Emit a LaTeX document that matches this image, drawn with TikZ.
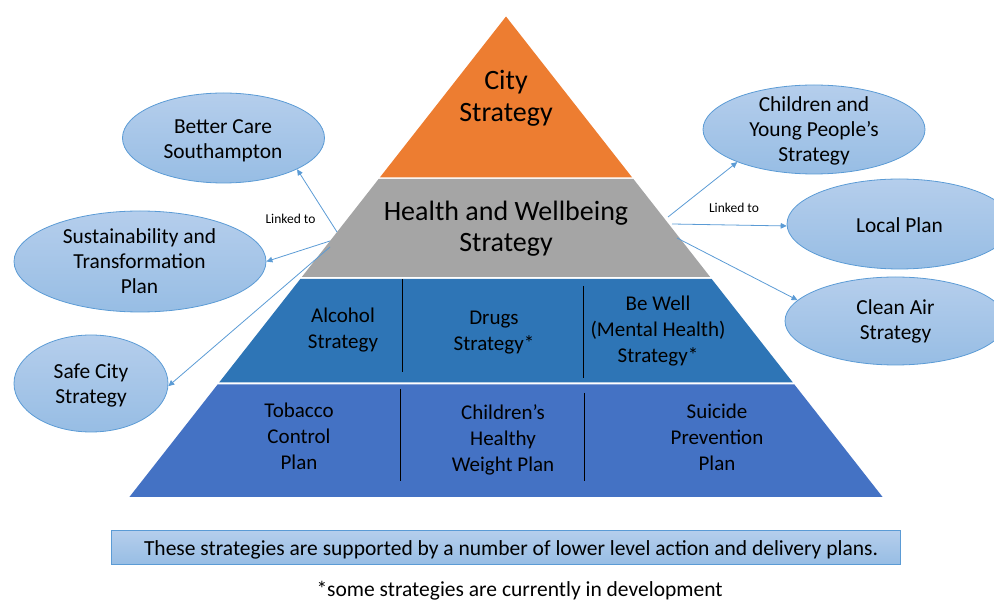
\documentclass[tikz,border=0pt]{standalone}
\usepackage{fontspec}
\setmainfont{Carlito}
\usetikzlibrary{shapes.geometric,arrows.meta}
\definecolor{cityorange}{HTML}{ED7D31}
\definecolor{hwbgrey}{HTML}{A5A5A5}
\definecolor{midblue}{HTML}{2E75B6}
\definecolor{lowblue}{HTML}{4472C4}
\definecolor{linkblue}{HTML}{5B9BD5}
\definecolor{bubbletop}{HTML}{B5CEEC}
\definecolor{bubblebot}{HTML}{97BDE4}
\tikzset{
  bubble/.style={ellipse, draw=linkblue, line width=0.8pt, top color=bubbletop,
    bottom color=bubblebot, inner sep=0pt},
  % multi-line labels are placed by the baseline of their last line
  bubbletext/.style={anchor=base, align=center, font=\fontsize{21.4}{25}\selectfont},
  bigtext/.style={anchor=base, align=center, font=\fontsize{28}{31.5}\selectfont},
  tiertext/.style={anchor=base, align=center, font=\fontsize{21}{26}\selectfont},
  plaintext/.style={anchor=base, font=\fontsize{21.5}{25}\selectfont},
  linklabel/.style={anchor=base, font=\fontsize{13.5}{16}\selectfont},
  link/.style={draw=linkblue, line width=0.8pt, -{Triangle[length=6pt,width=5.5pt]}},
  divider/.style={draw=black, line width=0.9pt},
  notebox/.style={rectangle, draw=linkblue, line width=0.8pt, top color=bubbletop,
    bottom color=bubblebot, inner sep=0pt},
}
\begin{document}
\begin{tikzpicture}[x=1pt,y=-1pt]
\useasboundingbox (0,0) rectangle (994,601);
\clip (0,0) rectangle (994,601);

% pyramid tiers
\fill[cityorange] (506,16.5) -- (632.2,177.5) -- (379.8,177.5) -- cycle;
\fill[hwbgrey] (378.6,179) -- (633.4,179) -- (710.2,277) -- (301.8,277) -- cycle;
\fill[midblue] (300.3,279) -- (711.7,279) -- (792.9,382.5) -- (219.1,382.5) -- cycle;
\fill[lowblue] (217.6,384.5) -- (794.4,384.5) -- (882.6,497) -- (129.4,497) -- cycle;

% column dividers
\draw[divider] (402.5,279) -- (402.5,372);
\draw[divider] (583.5,286) -- (583.5,378);
\draw[divider] (400.5,389) -- (400.5,481);
\draw[divider] (584.5,393) -- (584.5,481);

% tier labels
\node[bigtext] (city) at (506,121.5) {City\\Strategy};
\node[bigtext] (hwb) at (506,252) {Health and Wellbeing\\Strategy};
\node[tiertext] (alcohol) at (343,348.5) {Alcohol\\Strategy};
\node[tiertext] (drugs) at (494,351) {Drugs\\Strategy*};
\node[tiertext] (bewell) at (658,363) {Be Well\\(Mental Health)\\Strategy*};
\node[tiertext] (tobacco) at (299,470) {Tobacco\\Control\\Plan};
\node[tiertext] (weight) at (503,472) {Children’s\\Healthy\\Weight Plan};
\node[tiertext] (suicide) at (717,471) {Suicide\\Prevention\\Plan};

% linked strategies, left
\node[bubble, minimum width=202, minimum height=90] (bc) at (223.5,138) {};
\node[bubbletext] (bctext) at (223,158.3) {Better Care\\Southampton};
\node[bubble, minimum width=252, minimum height=101] (stp) at (140,261.5) {};
\node[bubbletext] (stptext) at (139.5,294) {Sustainability and\\Transformation\\Plan};
\node[bubble, minimum width=154, minimum height=97] (scs) at (91,383.5) {};
\node[bubbletext] (scstext) at (91,403.3) {Safe City\\Strategy};

% linked strategies, right
\node[bubble, minimum width=222, minimum height=89] (cyp) at (814,129.5) {};
\node[bubbletext] (cyptext) at (814,162) {Children and\\Young People’s\\Strategy};
\node[bubble, minimum width=225, minimum height=90] (lp) at (899.5,224) {};
\node[bubbletext] (lptext) at (899.5,232.3) {Local Plan};
\node[bubble, minimum width=221, minimum height=88] (ca) at (895.5,321) {};
\node[bubbletext] (catext) at (895.5,339.3) {Clean Air\\Strategy};

% links
\node[linklabel] (linkleft) at (290.5,224) {Linked to};
\node[linklabel] (linkright) at (734,212.7) {Linked to};
\coordinate (l1) at (337,232);
\coordinate (l2) at (330,241);
\coordinate (l3) at (330,247);
\coordinate (r1) at (668,217);
\coordinate (r2) at (672,224);
\coordinate (r3) at (677,238);
\draw[link] (l1) -- (bc.-23.7);
\draw[link] (l2) -- (stp.-0.7);
\draw[link] (l3) -- (scs.-2.7);
\draw[link] (r1) -- (cyp.203.2);
\draw[link] (r2) -- (lp.181.7);
\draw[link] (r3) -- (ca.168.7);

% notes
\node[notebox, minimum width=789, minimum height=34] (note) at (505.5,547.5) {};
\node[plaintext] (notetext) at (511,555) {These strategies are supported by a number of lower level action and delivery plans.};
\node[plaintext] (footnote) at (519.5,596.5) {*some strategies are currently in development};
\end{tikzpicture}
\end{document}
